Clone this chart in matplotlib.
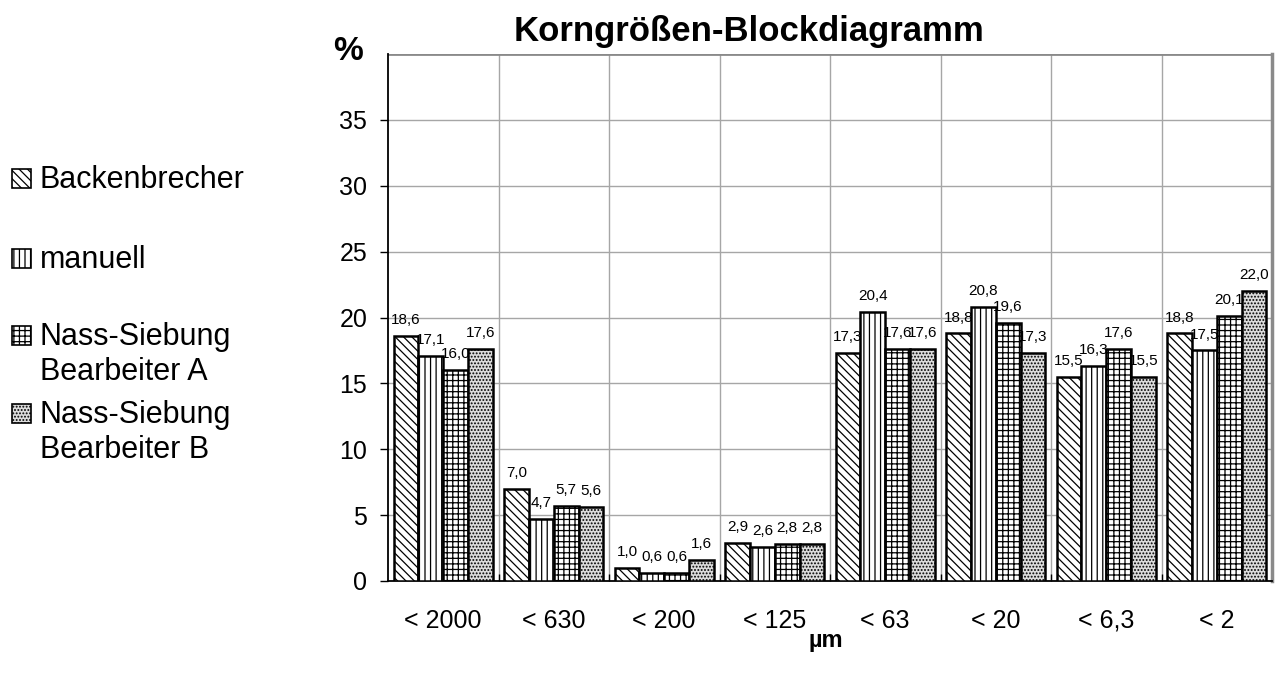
import matplotlib.pyplot as plt
import matplotlib.patches as mpatches
import numpy as np

plt.rcParams['font.family'] = ['Liberation Sans', 'DejaVu Sans']
plt.rcParams['hatch.linewidth'] = 0.9

# Korngrößen-Klassen (µm) und Anteile in %
klassen = ['< 2000', '< 630', '< 200', '< 125', '< 63', '< 20', '< 6,3', '< 2']
backenbrecher = [18.6, 7.0, 1.0, 2.9, 17.3, 18.8, 15.5, 18.8]
manuell = [17.1, 4.7, 0.6, 2.6, 20.4, 20.8, 16.3, 17.5]
nass_a = [16.0, 5.7, 0.6, 2.8, 17.6, 19.6, 17.6, 20.1]
nass_b = [17.6, 5.6, 1.6, 2.8, 17.6, 17.3, 15.5, 22.0]

serien = [backenbrecher, manuell, nass_a, nass_b]
namen = ['Backenbrecher', 'manuell', 'Nass-Siebung\nBearbeiter A', 'Nass-Siebung\nBearbeiter B']
muster = ['\\\\\\\\', '|||', '+++', '.....']
farben = ['white', 'white', 'white', '#dcdcdc']

W, H = 1282, 682
fig = plt.figure(figsize=(W / 100, H / 100), dpi=100)
ax = fig.add_axes([388 / W, 1 - 581 / H, (1272 - 388) / W, (581 - 54) / H])

x = np.arange(len(klassen))
breite = 0.225
for i, werte in enumerate(serien):
    pos = x + (i - 1.5) * breite
    ax.bar(pos, werte, breite, color=farben[i], edgecolor='black',
           linewidth=1.8, hatch=muster[i], zorder=3 + 2 * i)
    for xp, v in zip(pos, werte):
        ax.annotate(f'{v:.1f}'.replace('.', ','), (xp, v), xytext=(0, 8.5),
                    textcoords='offset points', ha='center', va='baseline',
                    fontsize=11, zorder=4 + 2 * i)

ax.set_xlim(-0.5, len(klassen) - 0.5)
ax.set_ylim(0, 40)
ax.set_yticks(np.arange(0, 36, 5))
ax.set_xticks(x)
ax.set_xticklabels(klassen, fontsize=18)
ax.set_xticks(x[:-1] + 0.5, minor=True)
ax.tick_params(axis='x', which='major', length=0, pad=20)
ax.tick_params(axis='x', which='minor', direction='in', length=5, width=1, color='black')
ax.tick_params(axis='y', labelsize=18, length=6, width=1, pad=9)

ax.grid(axis='y', color='#a6a6a6', linewidth=1, zorder=0)
ax.grid(axis='x', which='minor', color='#a6a6a6', linewidth=1, zorder=0)
ax.axhline(40, color='#8a8a8a', linewidth=2, zorder=1)
ax.set_axisbelow(True)
for s in ['left', 'bottom']:
    ax.spines[s].set_color('black')
    ax.spines[s].set_linewidth(1.3)
ax.spines['top'].set_visible(False)
ax.spines['right'].set_color('#8a8a8a')
ax.spines['right'].set_linewidth(2.5)

fig.text(749 / W, 1 - 31 / H, 'Korngrößen-Blockdiagramm', ha='center', va='center',
         fontsize=25, fontweight='bold')
fig.text(348 / W, 1 - 52 / H, '%', ha='center', va='center', fontsize=24, fontweight='bold')
fig.text(826 / W, 1 - 640 / H, 'µm', ha='center', va='center', fontsize=17, fontweight='bold')

# Legende links neben dem Diagramm
basis = [188, 268, 345, 423]
for i, name in enumerate(namen):
    y0 = 1 - basis[i] / H
    fig.patches.append(mpatches.Rectangle((12 / W, y0), 19 / W, 19 / H,
                                          transform=fig.transFigure, facecolor=farben[i],
                                          edgecolor='black', linewidth=1.2, hatch=muster[i]))
    for k, zeile in enumerate(name.split('\n')):
        fig.text(40 / W, y0 - k * 35 / H, zeile, ha='left', va='baseline', fontsize=22)

fig.savefig('out.png', dpi=100)
